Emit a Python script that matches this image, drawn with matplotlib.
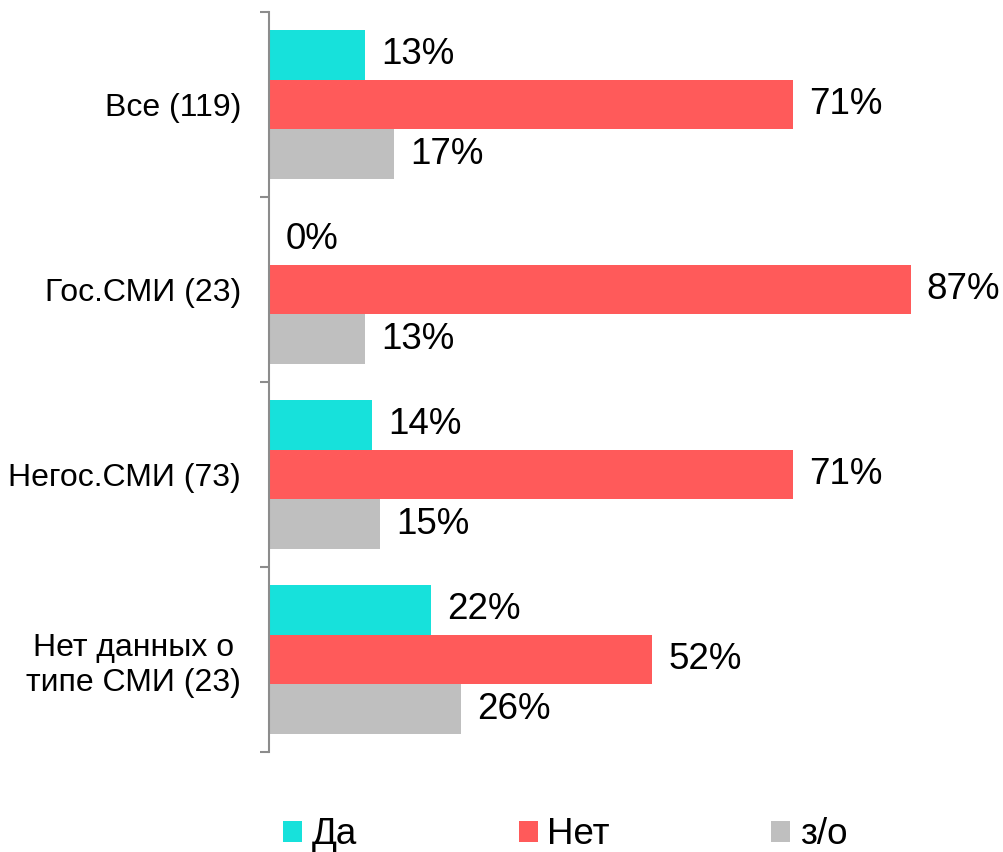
import matplotlib
matplotlib.use("Agg")
import matplotlib.pyplot as plt
import numpy as np

plt.rcParams['font.family'] = ['Liberation Sans', 'DejaVu Sans']

categories = ["Все (119)", "Гос.СМИ (23)", "Негос.СМИ (73)", "Нет данных о\nтипе СМИ (23)"]
series_names = ["Да", "Нет", "з/о"]
yes_vals = [13, 0, 14, 22]
no_vals = [71, 87, 71, 52]
na_vals = [17, 13, 15, 26]
colors = ["#17E1DB", "#FF5A5A", "#BFBFBF"]

fig = plt.figure(figsize=(10.04, 8.52), dpi=100)
ax = fig.add_axes([269 / 1004, 100 / 852, 730 / 1004, 740 / 852])

y = np.arange(len(categories))
bar_h = 0.27
offsets = [-bar_h, 0, bar_h]
bars = []
for vals, off, col, name in zip([yes_vals, no_vals, na_vals], offsets, colors, series_names):
    b = ax.barh(y + off, vals, height=bar_h, color=col, label=name)
    bars.append(b)
    for yi, v in zip(y, vals):
        ax.text(v + 2.2, yi + off, f"{v}%", va="center", ha="left", fontsize=26.5)

ax.set_xlim(0, 99)
ax.set_ylim(len(categories) - 0.5, -0.5)

# category labels on major ticks, boundary ticks as minor
ax.set_yticks(y)
ax.set_yticklabels(categories, fontsize=23, ha="right")
for lbl in ax.get_yticklabels():
    lbl.set_multialignment("center")
ax.tick_params(axis="y", which="major", length=0, pad=20)
ax.set_yticks(np.arange(-0.5, len(categories), 1), minor=True)
ax.tick_params(axis="y", which="minor", length=6.5, width=1.5, color="#8C8C8C", direction="out")

ax.set_xticks([])
for s in ["top", "right", "bottom"]:
    ax.spines[s].set_visible(False)
ax.spines["left"].set_color("#8C8C8C")
ax.spines["left"].set_linewidth(1.5)

fig.legend(handles=bars, labels=series_names, loc="center left",
           bbox_to_anchor=(283 / 1004, 1 - 835 / 852), ncol=3, frameon=False,
           fontsize=26.5, borderpad=0, borderaxespad=0, handlelength=0.52,
           handleheight=0.52, handletextpad=0.25, columnspacing=4.4)

fig.savefig("out.png", dpi=100)
